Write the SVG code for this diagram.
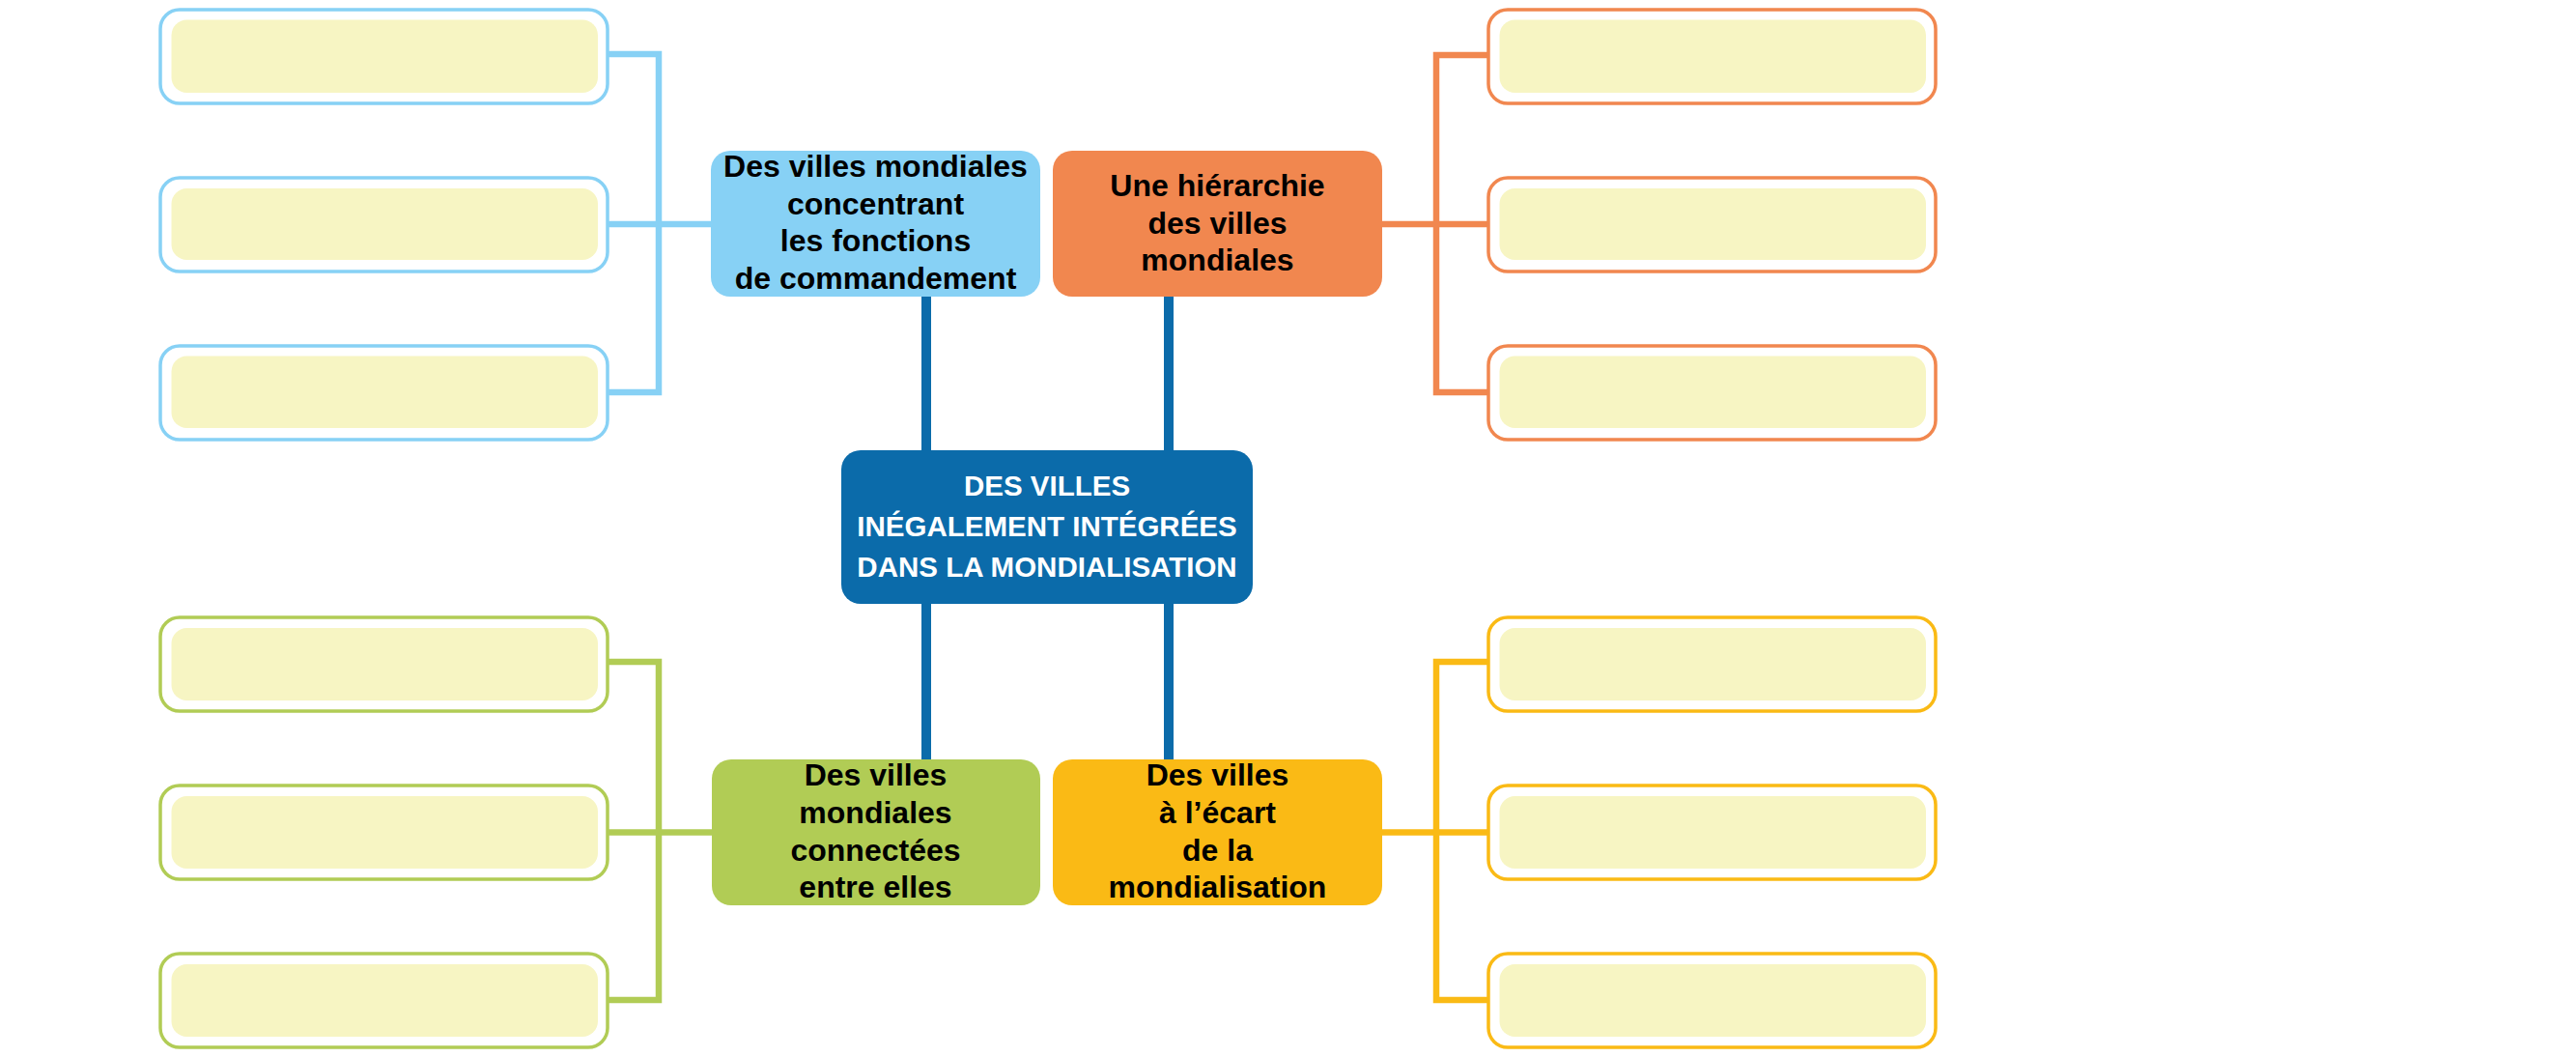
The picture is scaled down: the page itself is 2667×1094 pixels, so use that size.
<svg xmlns="http://www.w3.org/2000/svg" width="2667" height="1094" viewBox="0 0 2667 1094">
<style>
.lbl{font-family:"Liberation Sans",Arial,sans-serif;font-weight:bold;font-size:32px;text-anchor:middle;fill:#000}
.ctr{font-family:"Liberation Sans",Arial,sans-serif;font-weight:bold;font-size:29.5px;text-anchor:middle;fill:#fff}
.outer{fill:#fff;stroke-width:3.5}
.inner{fill:#F7F5C3}
.conn{fill:none;stroke-width:6.5;stroke-linejoin:miter}
.main{fill:none;stroke:#0B6BAA;stroke-width:10}
</style>
<rect width="2667" height="1094" fill="#fff"/>
<g id="connectors">
  <path class="main" d="M959,307V466M1210,307V466M959,625V786M1210,625V786"/>
  <path class="conn" stroke="#87D1F5" d="M629,56H682V406H629M629,232H736"/>
  <path class="conn" stroke="#F1874F" d="M1541,57H1487V406H1541M1541,232H1431"/>
  <path class="conn" stroke="#B1CC55" d="M629,685H682V1035H629M629,861.5H737"/>
  <path class="conn" stroke="#FABA15" d="M1541,685H1487V1035H1541M1541,861.5H1431"/>
</g>
<g id="node-center">
  <rect x="871" y="466" width="426" height="159" rx="20" fill="#0B6BAA"/>
  <text class="ctr" x="1084" y="513">DES VILLES</text>
  <text class="ctr" x="1084" y="555">INÉGALEMENT INTÉGRÉES</text>
  <text class="ctr" x="1084" y="597">DANS LA MONDIALISATION</text>
</g>
<g id="node-blue">
  <rect x="736" y="156" width="341" height="151" rx="20" fill="#87D1F5"/>
  <text class="lbl" x="906.5" y="183">Des villes mondiales</text>
  <text class="lbl" x="906.5" y="222">concentrant</text>
  <text class="lbl" x="906.5" y="260">les fonctions</text>
  <text class="lbl" x="906.5" y="299">de commandement</text>
</g>
<g id="node-orange">
  <rect x="1090" y="156" width="341" height="151" rx="20" fill="#F1874F"/>
  <text class="lbl" x="1260.5" y="203">Une hiérarchie</text>
  <text class="lbl" x="1260.5" y="242">des villes</text>
  <text class="lbl" x="1260.5" y="280">mondiales</text>
</g>
<g id="node-green">
  <rect x="737" y="786" width="340" height="151" rx="20" fill="#B1CC55"/>
  <text class="lbl" x="906.5" y="813">Des villes</text>
  <text class="lbl" x="906.5" y="852">mondiales</text>
  <text class="lbl" x="906.5" y="891">connectées</text>
  <text class="lbl" x="906.5" y="929">entre elles</text>
</g>
<g id="node-yellow">
  <rect x="1090" y="786" width="341" height="151" rx="20" fill="#FABA15"/>
  <text class="lbl" x="1260.5" y="813">Des villes</text>
  <text class="lbl" x="1260.5" y="852">à l’écart</text>
  <text class="lbl" x="1260.5" y="891">de la</text>
  <text class="lbl" x="1260.5" y="929">mondialisation</text>
</g>
<g id="blue-box-1"><rect class="outer" stroke="#87D1F5" x="166" y="10" width="463" height="97" rx="20"/><rect class="inner" x="177.5" y="20.5" width="441.5" height="75.5" rx="16"/></g>
<g id="blue-box-2"><rect class="outer" stroke="#87D1F5" x="166" y="184" width="463" height="97" rx="20"/><rect class="inner" x="177.5" y="195" width="441.5" height="74" rx="16"/></g>
<g id="blue-box-3"><rect class="outer" stroke="#87D1F5" x="166" y="358" width="463" height="97" rx="20"/><rect class="inner" x="177.5" y="368.5" width="441.5" height="74.5" rx="16"/></g>
<g id="orange-box-1"><rect class="outer" stroke="#F1874F" x="1541" y="10" width="463" height="97" rx="20"/><rect class="inner" x="1552.5" y="20.5" width="441.5" height="75.5" rx="16"/></g>
<g id="orange-box-2"><rect class="outer" stroke="#F1874F" x="1541" y="184" width="463" height="97" rx="20"/><rect class="inner" x="1552.5" y="195" width="441.5" height="74" rx="16"/></g>
<g id="orange-box-3"><rect class="outer" stroke="#F1874F" x="1541" y="358" width="463" height="97" rx="20"/><rect class="inner" x="1552.5" y="368.5" width="441.5" height="74.5" rx="16"/></g>
<g id="green-box-1"><rect class="outer" stroke="#B1CC55" x="166" y="639" width="463" height="97" rx="20"/><rect class="inner" x="177.5" y="650" width="441.5" height="75" rx="16"/></g>
<g id="green-box-2"><rect class="outer" stroke="#B1CC55" x="166" y="813" width="463" height="97" rx="20"/><rect class="inner" x="177.5" y="824" width="441.5" height="75" rx="16"/></g>
<g id="green-box-3"><rect class="outer" stroke="#B1CC55" x="166" y="987" width="463" height="97" rx="20"/><rect class="inner" x="177.5" y="998" width="441.5" height="75" rx="16"/></g>
<g id="yellow-box-1"><rect class="outer" stroke="#FABA15" x="1541" y="639" width="463" height="97" rx="20"/><rect class="inner" x="1552.5" y="650" width="441.5" height="75" rx="16"/></g>
<g id="yellow-box-2"><rect class="outer" stroke="#FABA15" x="1541" y="813" width="463" height="97" rx="20"/><rect class="inner" x="1552.5" y="824" width="441.5" height="75" rx="16"/></g>
<g id="yellow-box-3"><rect class="outer" stroke="#FABA15" x="1541" y="987" width="463" height="97" rx="20"/><rect class="inner" x="1552.5" y="998" width="441.5" height="75" rx="16"/></g>
</svg>
